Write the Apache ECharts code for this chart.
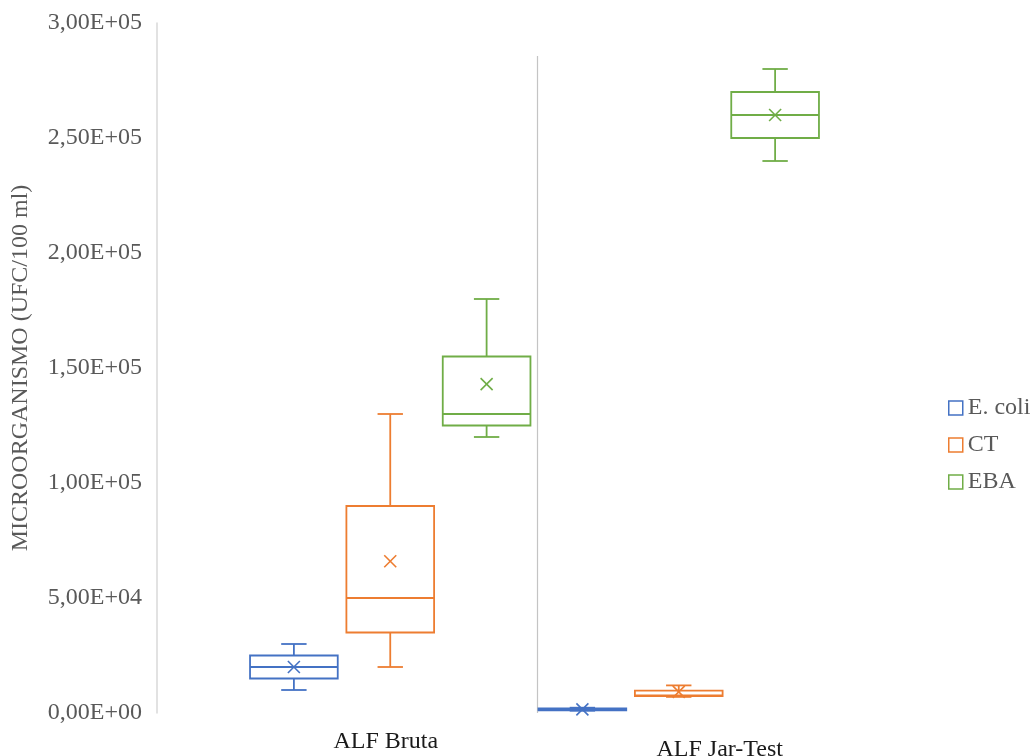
<!DOCTYPE html>
<html>
<head>
<meta charset="utf-8">
<script src="https://cdn.jsdelivr.net/npm/echarts@6/dist/echarts.min.js"></script>
<style>
  html, body { margin: 0; padding: 0; background: #ffffff; overflow: hidden; }
  #chart { width: 1035px; height: 756px; }
</style>
</head>
<body>
<div id="chart"></div>
<script>
// ---------------- DATA ----------------
const categories = ['ALF Bruta', 'ALF Jar-Test'];
const seriesNames = ['E. coli', 'CT', 'EBA'];
// [min, Q1, median, Q3, max] for each category
const ecoliBox = [[10000, 15000, 20000, 25000, 30000], [1000, 1200, 1600, 2000, 2300]];
const ctBox    = [[20000, 35000, 50000, 90000, 130000], [7000, 7400, 7600, 9700, 12000]];
const ebaBox   = [[120000, 125000, 130000, 155000, 180000], [240000, 250000, 260000, 270000, 280000]];
// mean (×) for each category
const ecoliMean = [20000, 1600];
const ctMean    = [66000, 9200];
const ebaMean   = [143000, 260000];
// y tick labels
const yTickValues = [0, 50000, 100000, 150000, 200000, 250000, 300000];
const yTickLabels = ['0,00E+00', '5,00E+04', '1,00E+05', '1,50E+05', '2,00E+05', '2,50E+05', '3,00E+05'];
// --------------------------------------

const colors = ['#4472C4', '#ED7D31', '#70AD47'];
const FONT = "'Liberation Serif', 'Times New Roman', serif";
const SLOT_FRAC = 0.334;   // distance between neighbouring boxes, share of category band
const BOX_FRAC = 0.304;    // box width, share of band
const CAP_FRAC = 0.088;    // whisker cap width, share of band
const LW = 1.8;

function makeRender(slot, color) {
  return function (params, api) {
    const cat = api.value(0);
    const band = api.size([1, 0])[0];
    const cx = api.coord([cat, 0])[0] + (slot - 1) * band * SLOT_FRAC;
    const half = band * BOX_FRAC / 2;
    const capHalf = band * CAP_FRAC / 2;
    const y = i => api.coord([cat, api.value(i)])[1];
    const yMin = y(1), yQ1 = y(2), yMed = y(3), yQ3 = y(4), yMax = y(5), yMean = y(6);
    const ls = { stroke: color, lineWidth: LW };
    const line = (x1, y1, x2, y2) => ({ type: 'line', shape: { x1, y1, x2, y2 }, style: ls });
    const m = 6;
    return {
      type: 'group',
      children: [
        line(cx, yQ3, cx, yMax),
        line(cx, yQ1, cx, yMin),
        line(cx - capHalf, yMax, cx + capHalf, yMax),
        line(cx - capHalf, yMin, cx + capHalf, yMin),
        { type: 'rect', shape: { x: cx - half, y: yQ3, width: 2 * half, height: Math.max(yQ1 - yQ3, 0.5) },
          style: { stroke: color, lineWidth: LW, fill: '#ffffff' } },
        line(cx - half, yMed, cx + half, yMed),
        { type: 'line', shape: { x1: cx - m, y1: yMean - m, x2: cx + m, y2: yMean + m }, style: { stroke: color, lineWidth: 1.6 } },
        { type: 'line', shape: { x1: cx - m, y1: yMean + m, x2: cx + m, y2: yMean - m }, style: { stroke: color, lineWidth: 1.6 } }
      ]
    };
  };
}

const boxes = [ecoliBox, ctBox, ebaBox];
const means = [ecoliMean, ctMean, ebaMean];

const series = seriesNames.map((name, s) => ({
  name: name,
  type: 'custom',
  xAxisIndex: 0,
  yAxisIndex: 0,
  renderItem: makeRender(s, colors[s]),
  itemStyle: { color: colors[s] },
  encode: { x: 0, y: [1, 2, 3, 4, 5, 6] },
  data: categories.map((c, i) => [i].concat(boxes[s][i], [means[s][i]])),
  silent: true
}));

const chart = echarts.init(document.getElementById('chart'), null, { renderer: 'canvas' });
chart.setOption({
  animation: false,
  backgroundColor: '#ffffff',
  textStyle: { fontFamily: FONT },
  grid: [
    { left: 246, right: 212, top: 23, bottom: 43, outerBoundsMode: 'none', containLabel: false },
    { left: 249, right: 209, top: 56, bottom: 43, outerBoundsMode: 'none', containLabel: false }
  ],
  legend: {
    orient: 'vertical',
    left: 943,
    top: 391,
    itemWidth: 14,
    itemHeight: 14,
    itemGap: 13,
    icon: 'rect',
    textStyle: { fontFamily: FONT, fontSize: 24, color: '#595959' },
    data: seriesNames.map((n, i) => ({
      name: n,
      itemStyle: { color: 'rgba(0,0,0,0)', borderColor: colors[i], borderWidth: 1.5 }
    }))
  },
  xAxis: [
    {
      gridIndex: 0,
      type: 'category',
      data: categories,
      boundaryGap: true,
      axisLine: { show: false },
      axisTick: { show: false },
      splitLine: { show: false },
      axisLabel: {
        margin: 17,
        interval: 0,
        hideOverlap: false,
        formatter: (v, i) => (i === 0 ? '{a|' + v + '}' : '{b|' + v + '}'),
        rich: {
          a: { fontFamily: FONT, fontSize: 24, color: '#1a1a1a', padding: [0, 9, 0, 0] },
          b: { fontFamily: FONT, fontSize: 24, color: '#1a1a1a', padding: [8, 0, 0, 82] }
        }
      }
    },
    {
      gridIndex: 1,
      type: 'category',
      data: categories,
      boundaryGap: true,
      axisLine: { show: false },
      axisTick: { show: false },
      axisLabel: { show: false },
      splitLine: { show: true, lineStyle: { color: ['rgba(0,0,0,0)', '#c4c4c4', 'rgba(0,0,0,0)'], width: 1.2 } }
    }
  ],
  yAxis: [
    {
      gridIndex: 0,
      type: 'value',
      min: 0,
      max: 300000,
      interval: 50000,
      offset: 89,
      name: 'MICROORGANISMO (UFC/100 ml)',
      nameLocation: 'middle',
      nameGap: 124,
      nameTextStyle: { fontFamily: FONT, fontSize: 24, color: '#595959' },
      axisLine: { show: true, lineStyle: { color: '#d9d9d9', width: 1.5 } },
      axisTick: { show: false },
      splitLine: { show: false },
      axisLabel: {
        margin: 15,
        fontFamily: FONT,
        fontSize: 24,
        color: '#595959',
        padding: [4, 0, 0, 0],
        formatter: v => {
          const k = yTickValues.indexOf(v);
          return k >= 0 ? yTickLabels[k] : '';
        }
      }
    },
    {
      gridIndex: 1,
      type: 'value',
      show: false,
      min: 0,
      max: 1
    }
  ],
  series: series
});
</script>
</body>
</html>
